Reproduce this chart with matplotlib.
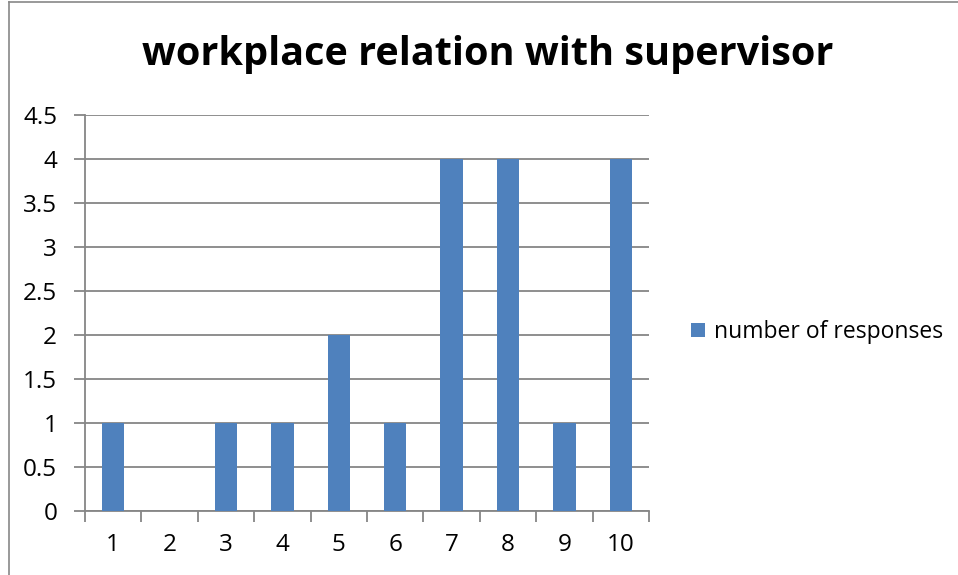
import matplotlib
matplotlib.use("Agg")
import matplotlib.pyplot as plt
from matplotlib.lines import Line2D

# data
categories = ["1", "2", "3", "4", "5", "6", "7", "8", "9", "10"]
responses = [1, 0, 1, 1, 2, 1, 4, 4, 1, 4]
y_ticks = [0, 0.5, 1, 1.5, 2, 2.5, 3, 3.5, 4, 4.5]

title = "workplace relation with supervisor"
series_name = "number of responses"

bar_color = "#4F81BD"
grid_color = "#868686"

plt.rcParams["font.family"] = ["Open Sans", "DejaVu Sans"]

W, H = 958, 575
fig = plt.figure(figsize=(W / 100, H / 100), dpi=100)

# plot area in pixels: left 85, top 115, right 649, bottom 511
ax = fig.add_axes([85 / W, 1 - 511 / H, 564 / W, 396 / H])

x = list(range(len(categories)))
ax.bar(x, responses, width=0.4, color=bar_color, label=series_name, zorder=3)

ax.set_xlim(-0.5, len(categories) - 0.5)
ax.set_ylim(0, 4.5)

ax.set_yticks(y_ticks)
ax.set_yticklabels([f"{v:g}" for v in y_ticks])
ax.yaxis.grid(True, color=grid_color, linewidth=1.3, zorder=0)

# tick marks at category boundaries, labels at category centres
ax.set_xticks([i - 0.5 for i in range(len(categories) + 1)])
ax.set_xticklabels([])
ax.set_xticks(x, minor=True)
ax.set_xticklabels(categories, minor=True)
ax.tick_params(axis="x", which="major", length=8, width=1.3, color=grid_color)
ax.tick_params(axis="x", which="minor", length=0, pad=16, labelsize=17.5)
ax.tick_params(axis="y", length=8, width=1.3, color=grid_color, pad=12, labelsize=17.5)

for side in ["top", "right"]:
    ax.spines[side].set_visible(False)
for side in ["left", "bottom"]:
    ax.spines[side].set_color(grid_color)
    ax.spines[side].set_linewidth(1.3)

fig.text(488 / W, 1 - 55 / H, title, ha="center", va="center",
         fontsize=28.5, fontweight="bold")

fig.legend(loc="center left", bbox_to_anchor=(682 / W, 1 - 332 / H),
           frameon=False, fontsize=16.5, handlelength=0.6, handleheight=0.6,
           handletextpad=0.4, borderaxespad=0)

# chart border (only the left and top edges show in the reference)
fig.add_artist(Line2D([8.5 / W, 8.5 / W], [0, 1 - 2 / H], color="#878787", linewidth=1.2))
fig.add_artist(Line2D([8.5 / W, 1], [1 - 2 / H, 1 - 2 / H], color="#878787", linewidth=1.2))

fig.savefig("out.png", dpi=100)
